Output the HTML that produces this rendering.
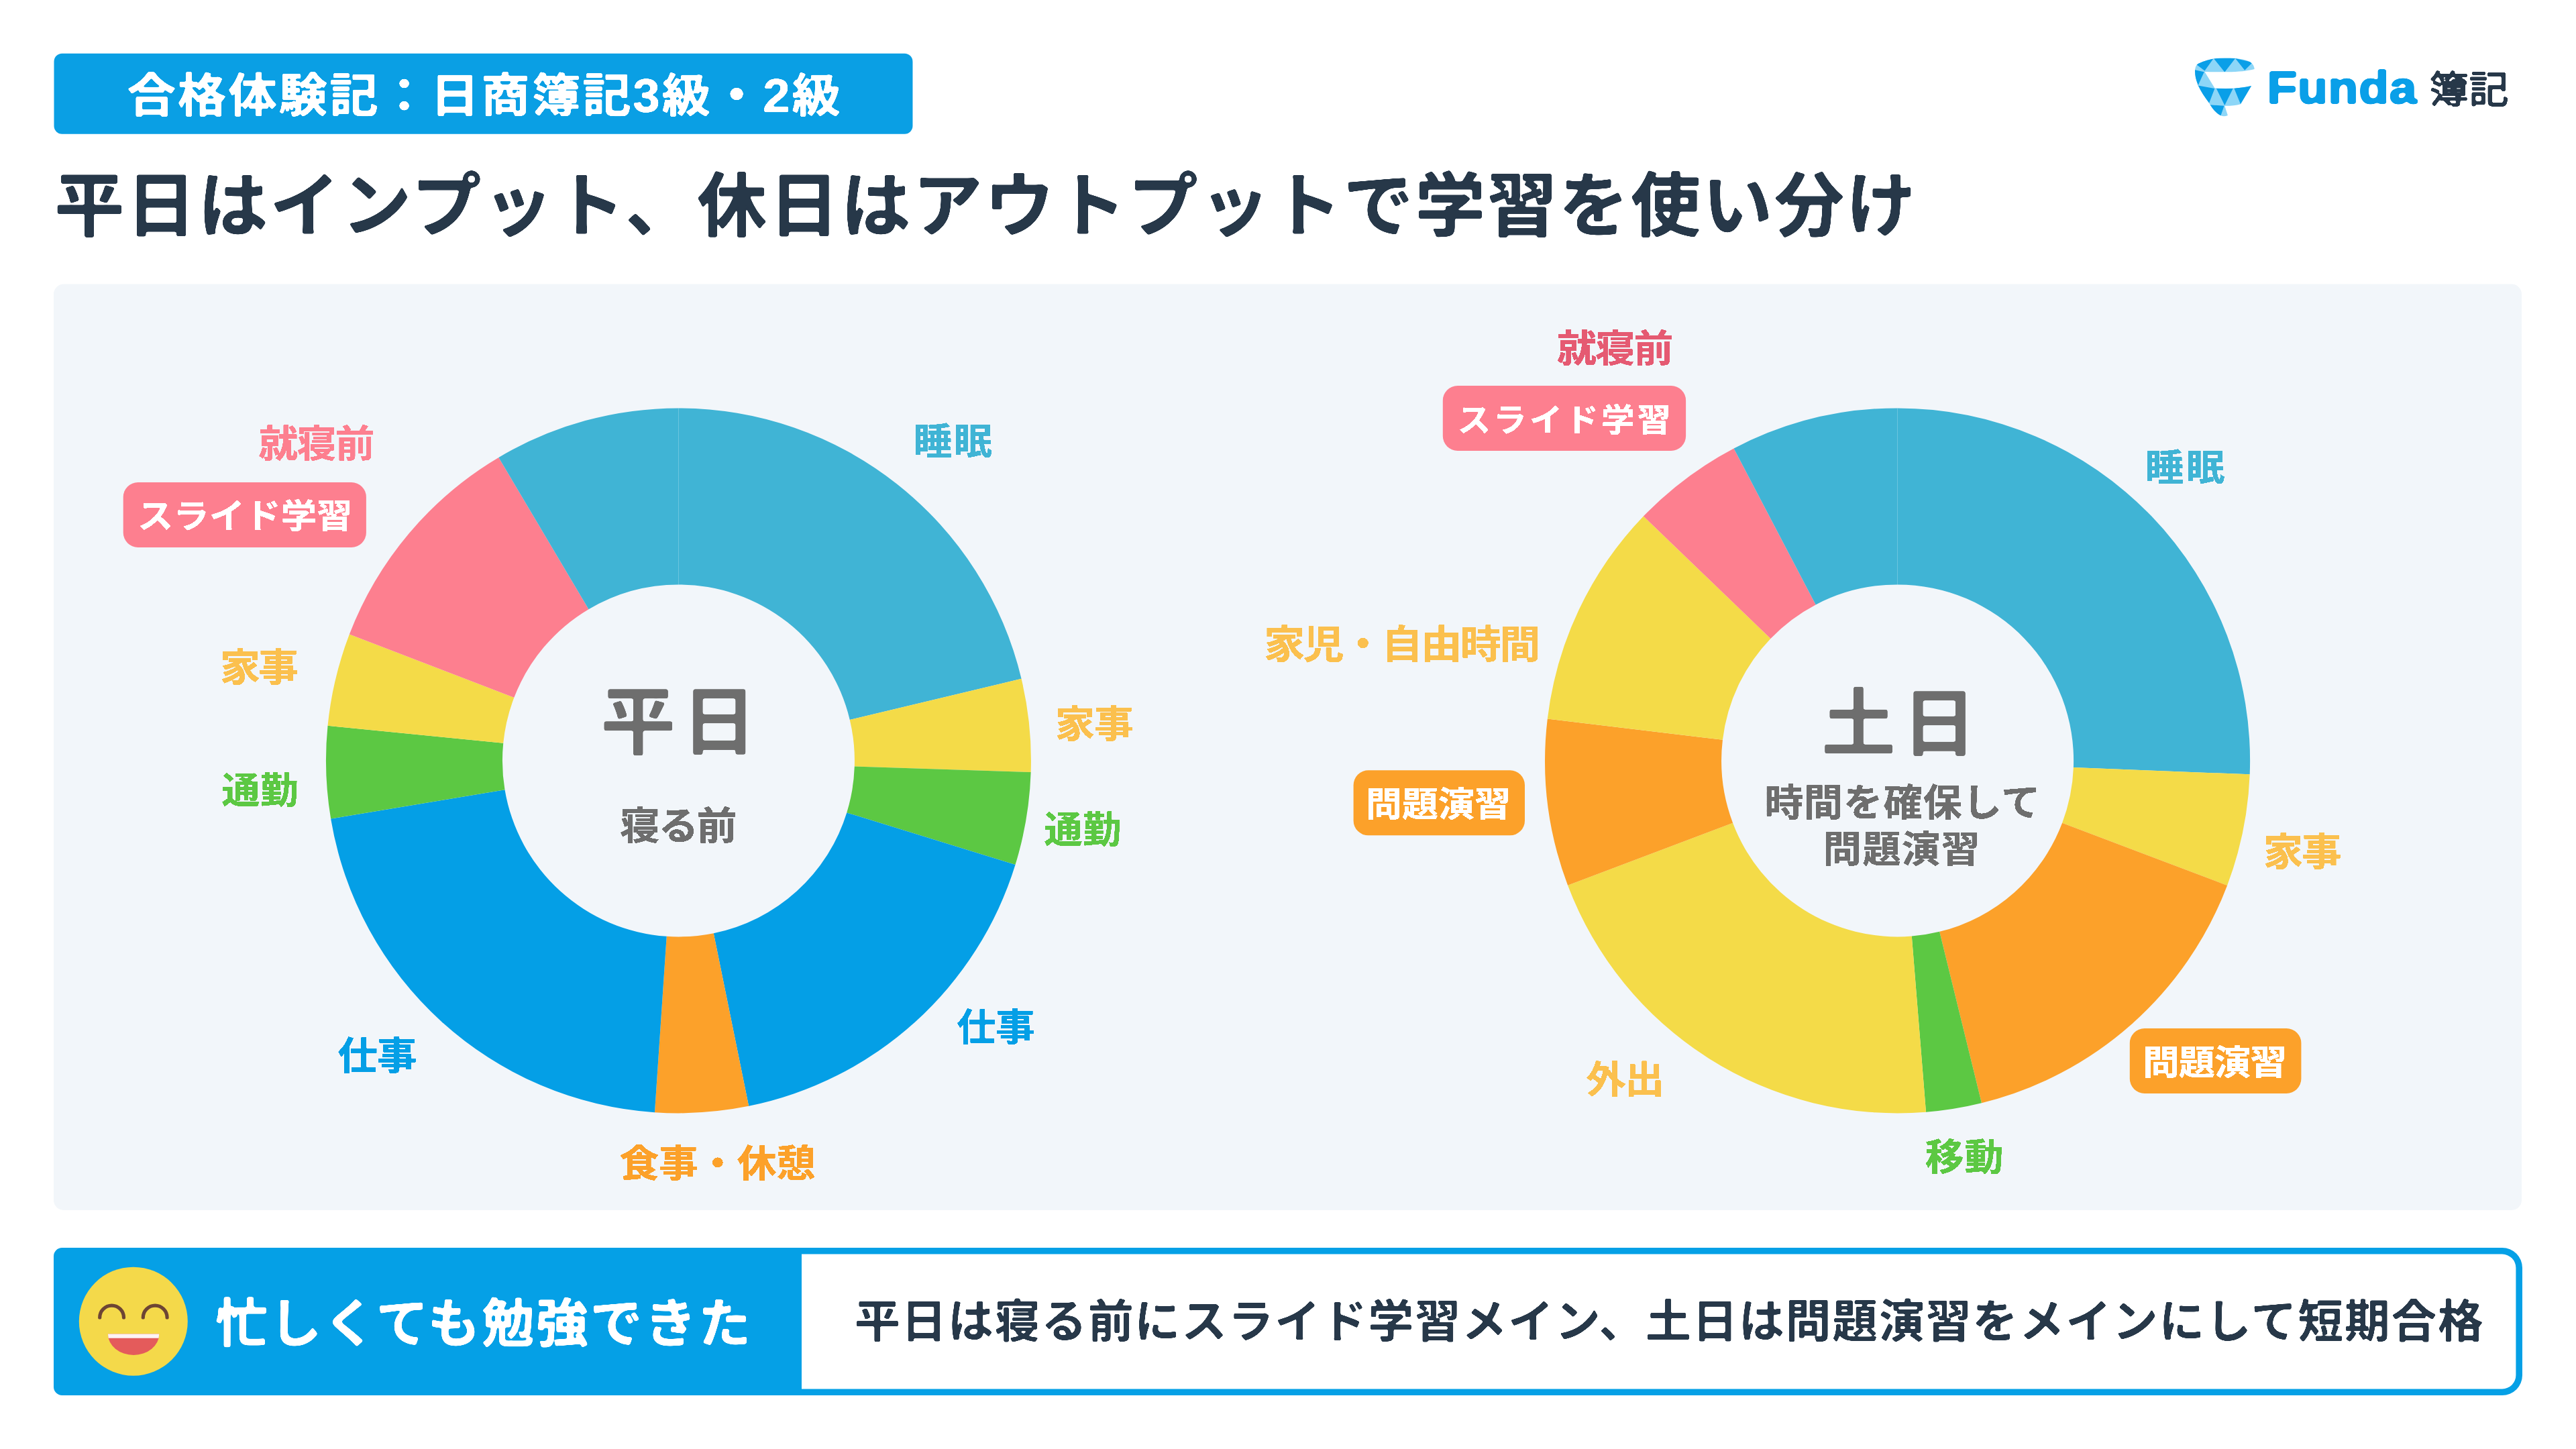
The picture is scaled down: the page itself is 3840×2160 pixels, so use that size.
<!DOCTYPE html>
<html lang="ja"><head><meta charset="utf-8"><title>平日はインプット、休日はアウトプットで学習を使い分け</title>
<style>
html,body{margin:0;padding:0;background:#fff}
body{width:3840px;height:2160px;overflow:hidden}
svg{display:block}
text{font-family:"Liberation Sans", "Noto Sans CJK JP", sans-serif;stroke-linejoin:round;stroke-linecap:round}
</style></head><body>
<svg width="3840" height="2160" viewBox="0 0 3840 2160">
<defs><filter id="r0" x="-5%" y="-30%" width="110%" height="160%" color-interpolation-filters="sRGB"><feGaussianBlur stdDeviation="0.7"/><feComponentTransfer><feFuncA type="linear" slope="7" intercept="-3.0"/></feComponentTransfer></filter><filter id="r1" x="-5%" y="-30%" width="110%" height="160%" color-interpolation-filters="sRGB"><feGaussianBlur stdDeviation="0.8"/><feComponentTransfer><feFuncA type="linear" slope="7" intercept="-3.0"/></feComponentTransfer></filter><filter id="r2" x="-5%" y="-30%" width="110%" height="160%" color-interpolation-filters="sRGB"><feGaussianBlur stdDeviation="0.9"/><feComponentTransfer><feFuncA type="linear" slope="7" intercept="-3.0"/></feComponentTransfer></filter><filter id="r3" x="-5%" y="-30%" width="110%" height="160%" color-interpolation-filters="sRGB"><feGaussianBlur stdDeviation="1.3"/><feComponentTransfer><feFuncA type="linear" slope="7" intercept="-3.0"/></feComponentTransfer></filter><filter id="r4" x="-5%" y="-30%" width="110%" height="160%" color-interpolation-filters="sRGB"><feGaussianBlur stdDeviation="1.4"/><feComponentTransfer><feFuncA type="linear" slope="7" intercept="-3.0"/></feComponentTransfer></filter><filter id="r5" x="-5%" y="-30%" width="110%" height="160%" color-interpolation-filters="sRGB"><feGaussianBlur stdDeviation="1.6"/><feComponentTransfer><feFuncA type="linear" slope="7" intercept="-3.0"/></feComponentTransfer></filter><filter id="r6" x="-5%" y="-30%" width="110%" height="160%" color-interpolation-filters="sRGB"><feGaussianBlur stdDeviation="1.8"/><feComponentTransfer><feFuncA type="linear" slope="7" intercept="-3.0"/></feComponentTransfer></filter></defs>
<rect x="80" y="423.5" width="3679.0" height="1380.5" rx="15" fill="#f2f6fa"/>
<rect x="80.5" y="79.7" width="1280.0" height="120.0" rx="12" fill="#0a9fe4"/>
<text transform="translate(189.40 167.32) scale(1.0400 1)" font-size="69.88" letter-spacing="2.62" font-weight="700" fill="#fff" stroke="#fff" stroke-width="0.7" filter="url(#r2)">合格体験記：日商簿記3級・2級</text>
<text transform="translate(81.20 343.89) scale(1.0000 1)" font-size="104.00" letter-spacing="3.04" font-weight="700" fill="#273849" stroke="#273849" stroke-width="0.8" filter="url(#r6)">平日はインプット、休日はアウトプットで学習を使い分け</text>
<path d="M1011.45 608.40A525.5 525.5 0 0 1 1522.58 1011.85L1266.77 1072.93A262.5 262.5 0 0 0 1011.45 871.40Z" fill="#40b4d5"/>
<path d="M1522.58 1011.85A525.5 525.5 0 0 1 1536.67 1151.05L1273.81 1142.47A262.5 262.5 0 0 0 1266.77 1072.93Z" fill="#f4db48"/>
<path d="M1536.67 1151.05A525.5 525.5 0 0 1 1513.53 1289.03L1262.25 1211.39A262.5 262.5 0 0 0 1273.81 1142.47Z" fill="#5cc843"/>
<path d="M1513.53 1289.03A525.5 525.5 0 0 1 1116.13 1648.87L1063.74 1391.14A262.5 262.5 0 0 0 1262.25 1211.39Z" fill="#049fe6"/>
<path d="M1116.13 1648.87A525.5 525.5 0 0 1 975.98 1658.20L993.73 1395.80A262.5 262.5 0 0 0 1063.74 1391.14Z" fill="#fca12a"/>
<path d="M975.98 1658.20A525.5 525.5 0 0 1 493.13 1220.45L752.53 1177.13A262.5 262.5 0 0 0 993.73 1395.80Z" fill="#049fe6"/>
<path d="M493.13 1220.45A525.5 525.5 0 0 1 488.54 1081.80L750.24 1107.87A262.5 262.5 0 0 0 752.53 1177.13Z" fill="#5cc843"/>
<path d="M488.54 1081.80A525.5 525.5 0 0 1 520.85 945.58L766.39 1039.83A262.5 262.5 0 0 0 750.24 1107.87Z" fill="#f4db48"/>
<path d="M520.85 945.58A525.5 525.5 0 0 1 743.32 681.95L877.51 908.14A262.5 262.5 0 0 0 766.39 1039.83Z" fill="#fd7f8f"/>
<path d="M743.32 681.95A525.5 525.5 0 0 1 1011.45 608.40L1011.45 871.40A262.5 262.5 0 0 0 877.51 908.14Z" fill="#40b4d5"/>
<path d="M2828.60 608.40A525.5 525.5 0 0 1 3353.70 1154.35L3090.90 1144.11A262.5 262.5 0 0 0 2828.60 871.40Z" fill="#40b4d5"/>
<path d="M3353.70 1154.35A525.5 525.5 0 0 1 3320.08 1319.91L3074.11 1226.82A262.5 262.5 0 0 0 3090.90 1144.11Z" fill="#f4db48"/>
<path d="M3320.08 1319.91A525.5 525.5 0 0 1 2953.95 1644.23L2891.22 1388.82A262.5 262.5 0 0 0 3074.11 1226.82Z" fill="#fca12a"/>
<path d="M2953.95 1644.23A525.5 525.5 0 0 1 2871.02 1657.69L2849.79 1395.54A262.5 262.5 0 0 0 2891.22 1388.82Z" fill="#5cc843"/>
<path d="M2871.02 1657.69A525.5 525.5 0 0 1 2337.06 1319.74L2583.06 1226.73A262.5 262.5 0 0 0 2849.79 1395.54Z" fill="#f4db48"/>
<path d="M2337.06 1319.74A525.5 525.5 0 0 1 2306.82 1071.50L2567.96 1102.73A262.5 262.5 0 0 0 2583.06 1226.73Z" fill="#fca12a"/>
<path d="M2306.82 1071.50A525.5 525.5 0 0 1 2449.89 769.58L2639.42 951.92A262.5 262.5 0 0 0 2567.96 1102.73Z" fill="#f4db48"/>
<path d="M2449.89 769.58A525.5 525.5 0 0 1 2584.57 668.50L2706.70 901.42A262.5 262.5 0 0 0 2639.42 951.92Z" fill="#fd7f8f"/>
<path d="M2584.57 668.50A525.5 525.5 0 0 1 2828.60 608.40L2828.60 871.40A262.5 262.5 0 0 0 2706.70 901.42Z" fill="#40b4d5"/>
<rect x="183.7" y="719" width="362.2" height="96.9" rx="22" fill="#fd7f8f"/>
<rect x="2150.8" y="575" width="362.3" height="96.9" rx="22" fill="#fd7f8f"/>
<rect x="2017.6" y="1148.3" width="255.4" height="97.0" rx="22" fill="#fca12a"/>
<rect x="3174.8" y="1533" width="255.6" height="96.9" rx="22" fill="#fca12a"/>
<text transform="translate(385.50 680.74) scale(1.0500 1)" font-size="55.86" letter-spacing="-1.33" font-weight="700" fill="#fd7f8f" stroke="#fd7f8f" stroke-width="0.5" filter="url(#r0)">就寝前</text>
<text transform="translate(205.30 787.20) scale(1.0500 1)" font-size="50.53" letter-spacing="0.34" font-weight="700" fill="#fff" stroke="#fff" stroke-width="0.4" filter="url(#r0)">スライド学習</text>
<text transform="translate(328.10 1015.26) scale(1.0500 1)" font-size="56.85" letter-spacing="-2.48" font-weight="700" fill="#fbc04e" stroke="#fbc04e" stroke-width="0.5" filter="url(#r0)">家事</text>
<text transform="translate(330.60 1198.00) scale(1.0500 1)" font-size="54.15" letter-spacing="0.57" font-weight="700" fill="#5cc843" stroke="#5cc843" stroke-width="0.5" filter="url(#r0)">通勤</text>
<text transform="translate(503.40 1593.52) scale(1.0500 1)" font-size="56.52" letter-spacing="-0.76" font-weight="700" fill="#049fe6" stroke="#049fe6" stroke-width="0.5" filter="url(#r0)">仕事</text>
<text transform="translate(923.40 1754.43) scale(1.0500 1)" font-size="55.81" letter-spacing="-0.10" font-weight="700" fill="#fca12a" stroke="#fca12a" stroke-width="0.5" filter="url(#r0)">食事・休憩</text>
<text transform="translate(1426.30 1551.23) scale(1.0500 1)" font-size="55.59" letter-spacing="-0.38" font-weight="700" fill="#049fe6" stroke="#049fe6" stroke-width="0.5" filter="url(#r0)">仕事</text>
<text transform="translate(1556.60 1255.87) scale(1.0500 1)" font-size="54.35" letter-spacing="0.57" font-weight="700" fill="#5cc843" stroke="#5cc843" stroke-width="0.5" filter="url(#r0)">通勤</text>
<text transform="translate(1573.10 1098.61) scale(1.0500 1)" font-size="56.15" letter-spacing="-1.14" font-weight="700" fill="#fbc04e" stroke="#fbc04e" stroke-width="0.5" filter="url(#r0)">家事</text>
<text transform="translate(1361.40 677.45) scale(1.0500 1)" font-size="54.62" letter-spacing="2.67" font-weight="700" fill="#40b4d5" stroke="#40b4d5" stroke-width="0.5" filter="url(#r0)">睡眠</text>
<text transform="translate(895.80 1116.09) scale(1.0000 1)" font-size="111.00" letter-spacing="9.60" font-weight="700" fill="#6e6e6e" stroke="#6e6e6e" stroke-width="0.4" filter="url(#r5)">平日</text>
<text transform="translate(924.20 1250.84) scale(1.0500 1)" font-size="56.74" letter-spacing="-2.19" font-weight="700" fill="#6e6e6e" stroke="#6e6e6e" stroke-width="0.5" filter="url(#r0)">寝る前</text>
<text transform="translate(2320.90 539.11) scale(1.0500 1)" font-size="56.15" letter-spacing="-1.62" font-weight="700" fill="#e55a72" stroke="#e55a72" stroke-width="0.5" filter="url(#r0)">就寝前</text>
<text transform="translate(2172.80 642.61) scale(1.0500 1)" font-size="47.18" letter-spacing="3.85" font-weight="700" fill="#fff" stroke="#fff" stroke-width="0.4" filter="url(#r0)">スライド学習</text>
<text transform="translate(3197.50 715.85) scale(1.0500 1)" font-size="54.62" letter-spacing="3.81" font-weight="700" fill="#40b4d5" stroke="#40b4d5" stroke-width="0.5" filter="url(#r0)">睡眠</text>
<text transform="translate(1884.30 980.62) scale(1.0500 1)" font-size="58.00" letter-spacing="-2.25" font-weight="700" fill="#fbc04e" stroke="#fbc04e" stroke-width="0.5" filter="url(#r0)">家児・自由時間</text>
<text transform="translate(2036.10 1217.41) scale(1.0500 1)" font-size="51.32" letter-spacing="0.06" font-weight="700" fill="#fff" stroke="#fff" stroke-width="0.4" filter="url(#r0)">問題演習</text>
<text transform="translate(3373.90 1290.32) scale(1.0500 1)" font-size="56.41" letter-spacing="-1.90" font-weight="700" fill="#fbc04e" stroke="#fbc04e" stroke-width="0.5" filter="url(#r0)">家事</text>
<text transform="translate(3194.60 1601.61) scale(1.0500 1)" font-size="51.56" letter-spacing="-0.83" font-weight="700" fill="#fff" stroke="#fff" stroke-width="0.4" filter="url(#r0)">問題演習</text>
<text transform="translate(2364.50 1628.75) scale(1.0500 1)" font-size="56.06" letter-spacing="-1.33" font-weight="700" fill="#fbc04e" stroke="#fbc04e" stroke-width="0.5" filter="url(#r0)">外出</text>
<text transform="translate(2869.90 1744.45) scale(1.0500 1)" font-size="54.90" letter-spacing="1.14" font-weight="700" fill="#5cc843" stroke="#5cc843" stroke-width="0.5" filter="url(#r0)">移動</text>
<text transform="translate(2715.50 1117.50) scale(1.0000 1)" font-size="110.00" letter-spacing="10.20" font-weight="700" fill="#6e6e6e" stroke="#6e6e6e" stroke-width="0.4" filter="url(#r5)">土日</text>
<text transform="translate(2630.20 1215.69) scale(1.0500 1)" font-size="55.12" letter-spacing="1.24" font-weight="700" fill="#6e6e6e" stroke="#6e6e6e" stroke-width="0.5" filter="url(#r0)">時間を確保して</text>
<text transform="translate(2717.80 1284.65) scale(1.0500 1)" font-size="54.38" letter-spacing="1.46" font-weight="700" fill="#6e6e6e" stroke="#6e6e6e" stroke-width="0.5" filter="url(#r0)">問題演習</text>
<path d="M92.5 1860H3730a30 30 0 0 1 30 30V2050a30 30 0 0 1 -30 30H92.5a12.5 12.5 0 0 1 -12.5 -12.5V1872.5a12.5 12.5 0 0 1 12.5 -12.5Z" fill="#05a0e6"/>
<path d="M1195 1869.6H3730a20.4 20.4 0 0 1 20.4 20.4V2050a20.4 20.4 0 0 1 -20.4 20.4H1195Z" fill="#fff"/>
<circle cx="198.8" cy="1969.7" r="81" fill="#f4d94a"/>
<path d="M148.7 1964a17.9 17.9 0 0 1 35.8 0M213.3 1964a17.9 17.9 0 0 1 35.8 0" fill="none" stroke="#6d4534" stroke-width="5.2" stroke-linecap="round"/>
<path d="M160.9 1988.6H237.3A38.2 31.4 0 0 1 160.9 1988.6Z" fill="#e45b5b"/>
<path d="M160.9 1988.6H237.3L236.6 1994.7H161.6Z" fill="#fdf3f3"/>
<text transform="translate(320.70 2000.98) scale(1.0000 1)" font-size="78.00" letter-spacing="2.76" font-weight="700" fill="#fff" stroke="#fff" stroke-width="0.8" filter="url(#r4)">忙しくても勉強できた</text>
<text transform="translate(1273.70 1994.21) scale(1.0000 1)" font-size="68.00" letter-spacing="1.60" font-weight="700" fill="#273849" stroke="#273849" stroke-width="0.0" filter="url(#r3)">平日は寝る前にスライド学習メイン、土日は問題演習をメインにして短期合格</text>
<clipPath id="lg"><path d="M3276.6 94.9C3290 88.5 3303 86.3 3316.3 86.2C3335 86.1 3347 88.5 3354.4 92.4C3358.5 95 3360.5 99 3360.7 103.1C3350 106 3335 107.5 3317.2 107.3C3305 107.3 3295 107.2 3286.5 106.9L3301.4 131.3C3320 133.2 3340 131.5 3356.1 128L3340 155.3C3333 157.3 3325 157.9 3316.3 157.8L3320.9 171.9C3317.5 173.5 3313.8 173.6 3310.5 172.3C3303 168.5 3297.5 161 3293.1 153.7C3286.5 145 3281 136.5 3276.6 127.2C3273.5 119.5 3271.8 112 3272 104.8C3272.3 100 3274 96.5 3276.6 94.9Z"/></clipPath>
<g clip-path="url(#lg)">
<rect x="3265" y="80" width="100" height="100" fill="#8dd6f7"/>
<path d="M3270 93L3299.8 87L3286.5 105.5Z M3299.8 87L3332.1 87L3316.3 107.5Z M3332.1 87L3358 93L3346.2 104.8Z M3268 103.5L3285.7 107.3L3276.6 127.2Z M3274 127L3301.4 132.1L3293.1 153.7Z M3303.9 132.1L3328.8 131.7L3316.3 157Z M3330.4 131.7L3360 126L3340 155.3Z M3293.1 156.2L3315.5 157.8L3310.5 172.3L3300 175Z" fill="#0a9fe8"/>
</g>
<text transform="translate(3379.40 154.48) scale(1.0600 1)" font-size="69.12" letter-spacing="0.80" font-weight="700" fill="#0a9fe8" stroke="#0a9fe8" stroke-width="2.2" filter="url(#r6)">Funda</text>
<text transform="translate(3621.00 152.75) scale(1.0500 1)" font-size="56.07" letter-spacing="0.57" font-weight="400" fill="#273849" stroke="#273849" stroke-width="1.8" filter="url(#r1)">簿記</text>
</svg>
</body></html>
